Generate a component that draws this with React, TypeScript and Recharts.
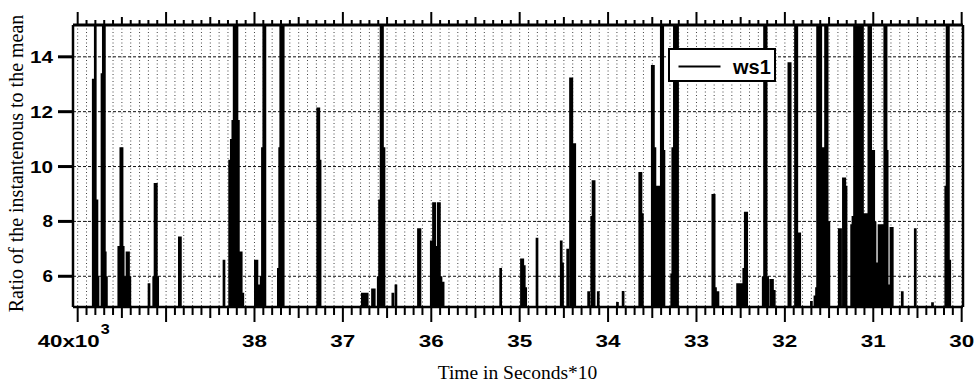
import { CartesianGrid, Legend, Line, LineChart, XAxis, YAxis } from "recharts";

// spikes, left (40x10^3) to right (30x10^3); 16 = clipped at the top
const spikeTime = [
  39824, 39801, 39782, 39770, 39725, 39710, 39698, 39688, 39675,
  39535, 39512, 39498, 39485, 39468, 39442, 39425, 39410,
  39193, 39140, 39125, 39110, 39095, 38850, 38838,
  38345, 38281, 38262, 38245, 38230, 38213, 38198, 38182, 38165, 38150, 38132,
  37990, 37972, 37945, 37925, 37910, 37895, 37882,
  37730, 37715, 37703, 37689, 37675, 37285, 37272, 37258,
  36780, 36760, 36740, 36725, 36665, 36645,
  36600, 36585, 36568, 36552, 36535, 36435, 36400, 36145, 36128,
  36000, 35975, 35960, 35945, 35920, 35908, 35890, 35866,
  35215, 34980, 34965, 34948, 34932, 34804, 34530, 34515, 34457,
  34425, 34410, 34392, 34377, 34220, 34185, 34170, 34158, 34111,
  33894, 33830, 33642, 33628, 33612, 33500, 33487, 33470, 33445, 33425,
  33398, 33382, 33368, 33280, 33268, 33250, 33232, 33214,
  32815, 32800, 32785, 32757, 32535, 32515, 32495, 32465, 32448, 32432,
  32245, 32230, 32212, 32195, 32160, 32140, 32120,
  31955, 31940, 31880, 31865, 31845, 31832,
  31700, 31660, 31642, 31630, 31612, 31594, 31570, 31555, 31540, 31522, 31502,
  31385, 31370, 31338, 31322, 31308,
  31245, 31230, 31212, 31194, 31176, 31158, 31140, 31122, 31100, 31085, 31070,
  31050, 31030, 31010, 30995, 30980, 30960, 30935, 30918, 30900,
  30870, 30855, 30843, 30815, 30800, 30785, 30672, 30525, 30330,
  30180, 30165, 30150, 30135,
];

const spikePeak = [
  13.2, 16, 8.8, 6.0, 13.4, 16, 16, 6.9, 6.0,
  7.1, 10.7, 10.7, 7.1, 6.0, 6.9, 6.9, 6.0,
  5.75, 6.0, 9.4, 9.4, 6.0, 7.45, 7.45,
  6.6, 10.25, 11.0, 11.7, 16, 16, 16, 11.7, 6.9, 6.9, 5.4,
  6.6, 6.6, 5.7, 6.0, 10.7, 16, 16,
  6.3, 10.7, 16, 16, 16, 12.15, 12.15, 10.25,
  5.4, 5.4, 5.4, 5.4, 5.55, 5.55,
  6.0, 8.8, 16, 16, 10.7, 5.4, 5.7, 7.75, 7.75,
  7.3, 8.7, 8.7, 7.1, 8.7, 8.7, 6.0, 5.8,
  6.3, 6.65, 6.65, 6.4, 5.6, 7.4, 7.3, 6.5, 7.0,
  13.25, 13.25, 10.85, 10.85, 5.45, 8.2, 9.5, 9.5, 5.45,
  5.06, 5.46, 9.8, 9.8, 8.3, 13.7, 13.7, 10.7, 9.3, 9.3,
  16, 16, 10.6, 6.1, 10.7, 16, 16, 16,
  9.0, 9.0, 5.6, 5.45, 5.75, 5.75, 5.75, 6.3, 8.35, 8.35,
  6.0, 16, 16, 6.0, 5.9, 5.9, 5.5,
  13.8, 13.8, 16, 16, 7.6, 7.6,
  5.1, 5.3, 5.6, 16, 16, 16, 10.7, 10.7, 16, 16, 8.0,
  7.75, 7.75, 9.6, 9.6, 9.3,
  7.9, 8.2, 16, 16, 16, 16, 16, 16, 8.3, 8.3, 8.3,
  16, 16, 10.6, 10.6, 8.0, 6.5, 7.9, 7.9, 7.9,
  16, 16, 10.6, 5.7, 7.8, 7.8, 5.45, 7.75, 5.05,
  9.3, 16, 16, 6.6,
];

const floorLevel = 4.7;

const majorTicks = [40000, 39000, 38000, 37000, 36000, 35000, 34000, 33000, 32000, 31000, 30000];
const majorLabels = ["40x10", "", "38", "37", "36", "35", "34", "33", "32", "31", "30"];
const exponentLabel = "3";
const yTicks = [6, 8, 10, 12, 14];
const seriesName = "ws1";
const xTitle = "Time in Seconds*10";
const yTitle = "Ratio of the instantenous to the mean";

const X_DOMAIN: [number, number] = [29985, 40053];
const Y_DOMAIN: [number, number] = [4.88, 15.16];

const SANS = '"Liberation Sans", Arial, Helvetica, sans-serif';
const SERIF = '"Liberation Serif", "Times New Roman", serif';

const minorTicks: number[] = [];
for (let t = 30000; t <= 40000; t += 100) minorTicks.push(t);

const lineData: { t: number; ratio: number }[] = [{ t: X_DOMAIN[1], ratio: floorLevel }];
spikeTime.forEach((t, i) => {
  lineData.push({ t, ratio: floorLevel }, { t, ratio: spikePeak[i] }, { t, ratio: floorLevel });
});
lineData.push({ t: X_DOMAIN[0], ratio: floorLevel });

function tickLen(v: number, major: number, half: number, minor: number) {
  if (v % 1000 === 0) return major;
  if (v % 500 === 0) return half;
  return minor;
}

function BottomTick(props: any) {
  const { x, y, payload } = props;
  const v = payload.value as number;
  const idx = majorTicks.indexOf(v);
  const label = idx >= 0 ? majorLabels[idx] : "";
  const textProps = { fontFamily: SANS, fontWeight: "bold" as const, fill: "#000", lengthAdjust: "spacingAndGlyphs" };
  return (
    <g>
      <line x1={x} x2={x} y1={y} y2={y + tickLen(v, 15, 11, 8)} stroke="#000" strokeWidth={2} />
      {idx === 0 ? (
        <>
          <text x={x - 40} y={y + 40} fontSize={16.5} textLength={62} {...textProps}>
            {label}
          </text>
          <text x={x + 23} y={y + 27} fontSize={14} textLength={9} {...textProps}>
            {exponentLabel}
          </text>
        </>
      ) : label ? (
        <text x={x} y={y + 40} fontSize={16.5} textAnchor="middle" textLength={25} {...textProps}>
          {label}
        </text>
      ) : null}
    </g>
  );
}

function TopTick(props: any) {
  const { x, y, payload } = props;
  const v = payload.value as number;
  return <line x1={x} x2={x} y1={y} y2={y - tickLen(v, 13, 8, 5)} stroke="#000" strokeWidth={2} />;
}

function LeftTick(props: any) {
  const { x, y, payload } = props;
  const v = payload.value as number;
  return (
    <text
      x={x + 1}
      y={y + 6}
      textAnchor="end"
      fontFamily={SANS}
      fontWeight="bold"
      fontSize={16.5}
      fill="#000"
      textLength={v >= 10 ? 23 : 10.5}
      lengthAdjust="spacingAndGlyphs"
    >
      {v}
    </text>
  );
}

function LegendBox() {
  return (
    <div
      style={{
        width: 108,
        height: 34,
        boxSizing: "border-box",
        border: "2px solid #000",
        background: "#fff",
        position: "relative",
      }}
    >
      <svg width={104} height={30} style={{ position: "absolute", left: 0, top: 0 }}>
        <line x1={8.5} x2={50.5} y1={16.5} y2={16.5} stroke="#000" strokeWidth={2} />
        <text x={63} y={23.5} fontFamily={SANS} fontWeight="bold" fontSize={20} fill="#000">
          {seriesName}
        </text>
      </svg>
    </div>
  );
}

export default function App() {
  return (
    <div style={{ position: "absolute", left: 0, top: 0, width: 976, height: 383, background: "#fff" }}>
      <LineChart width={976} height={383} data={lineData} margin={{ top: 0, right: 0, bottom: 0, left: 0 }}>
        <CartesianGrid horizontal={false} stroke="#444" strokeDasharray="1 2.5" />
        <CartesianGrid vertical={false} stroke="#111" strokeDasharray="3 2" />
        <XAxis
          dataKey="t"
          type="number"
          domain={X_DOMAIN}
          reversed
          allowDataOverflow
          ticks={minorTicks}
          interval={0}
          height={76}
          tickSize={0}
          tickMargin={0}
          tickLine={false}
          tick={BottomTick}
          stroke="#000"
          axisLine={{ stroke: "#000", strokeWidth: 2.5 }}
        />
        <XAxis
          xAxisId="top"
          orientation="top"
          dataKey="t"
          type="number"
          domain={X_DOMAIN}
          reversed
          allowDataOverflow
          ticks={minorTicks}
          interval={0}
          height={25}
          tickSize={0}
          tickMargin={0}
          tickLine={false}
          tick={TopTick}
          stroke="#000"
          axisLine={{ stroke: "#000", strokeWidth: 3 }}
        />
        <YAxis
          type="number"
          domain={Y_DOMAIN}
          allowDataOverflow
          ticks={yTicks}
          interval={0}
          width={73}
          tickSize={15}
          tickMargin={6}
          tickLine={{ stroke: "#000", strokeWidth: 3 }}
          tick={LeftTick}
          stroke="#000"
          axisLine={{ stroke: "#000", strokeWidth: 2.5 }}
        />
        <YAxis
          yAxisId="right"
          orientation="right"
          type="number"
          domain={Y_DOMAIN}
          allowDataOverflow
          ticks={yTicks}
          interval={0}
          width={13}
          tickSize={14}
          tickLine={{ stroke: "#000", strokeWidth: 3 }}
          tick={false}
          stroke="#000"
          axisLine={{ stroke: "#000", strokeWidth: 2.5 }}
        />
        <Line
          type="linear"
          dataKey="ratio"
          name={seriesName}
          stroke="#000"
          strokeWidth={2.7}
          dot={false}
          activeDot={false}
          isAnimationActive={false}
        />
        <Legend
          layout="vertical"
          align="center"
          verticalAlign="middle"
          content={() => <LegendBox />}
          wrapperStyle={{ left: 668, top: 48, width: 108, height: 34 }}
        />
      </LineChart>
      <svg
        width={976}
        height={383}
        style={{ position: "absolute", left: 0, top: 0, pointerEvents: "none" }}
      >
        <text x={517.5} y={379} textAnchor="middle" fontFamily={SERIF} fontSize={19.5} fill="#000">
          {xTitle}
        </text>
        <text
          transform="translate(23,163.5) rotate(-90)"
          textAnchor="middle"
          fontFamily={SERIF}
          fontSize={20}
          fill="#000"
        >
          {yTitle}
        </text>
      </svg>
    </div>
  );
}
